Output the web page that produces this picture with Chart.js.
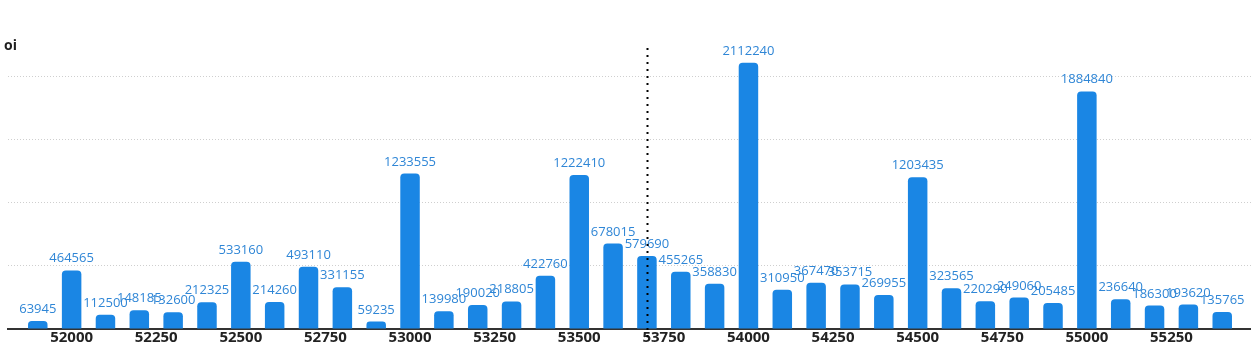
<!DOCTYPE html>
<html>
<head>
<meta charset="utf-8">
<script src="https://cdn.jsdelivr.net/npm/chart.js@4/dist/chart.umd.min.js"></script>
<style>
    html, body { margin: 0; padding: 0; background: #ffffff; }
    #wrap { width: 1251px; height: 347px; }
</style>
</head>
<body>
<div id="wrap"><canvas id="oiChart" width="1251" height="347"></canvas></div>
<script>
// Open interest per strike
const strikes = [51900, 52000, 52100, 52200, 52300, 52400, 52500, 52600, 52700, 52800,
                 52900, 53000, 53100, 53200, 53300, 53400, 53500, 53600, 53700, 53800,
                 53900, 54000, 54100, 54200, 54300, 54400, 54500, 54600, 54700, 54800,
                 54900, 55000, 55100, 55200, 55300, 55400];
const oiValues = [63945, 464565, 112500, 148185, 132600, 212325, 533160, 214260, 493110, 331155,
                  59235, 1233555, 139980, 190020, 218805, 422760, 1222410, 678015, 579690, 455265,
                  358830, 2112240, 310950, 367470, 353715, 269955, 1203435, 323565, 220290, 249060,
                  205485, 1884840, 236640, 186300, 193620, 135765];
const strikeTicks = [52000, 52250, 52500, 52750, 53000, 53250, 53500, 53750, 54000, 54250,
                     54500, 54750, 55000, 55250];
const oiTicks = [0, 500000, 1000000, 1500000, 2000000];
const spotPrice = 53700;

const BAR_COLOR = '#1a86e4';
const LABEL_COLOR = '#2f86d6';

// value text above each bar, spot marker and axis caption
const overlayPlugin = {
    id: 'overlay',
    afterDatasetsDraw(chart) {
        const ctx = chart.ctx;
        const meta = chart.getDatasetMeta(0);
        ctx.save();
        ctx.font = '13px "Open Sans"';
        ctx.fillStyle = LABEL_COLOR;
        ctx.textAlign = 'center';
        ctx.textBaseline = 'alphabetic';
        meta.data.forEach((bar, i) => {
            ctx.fillText(String(oiValues[i]), bar.x, bar.y - 8);
        });
        ctx.restore();

        const area = chart.chartArea;
        const sx = Math.round(chart.scales.x.getPixelForValue(spotPrice)) + 0.5;
        ctx.save();
        ctx.strokeStyle = '#000000';
        ctx.lineWidth = 2;
        ctx.setLineDash([2, 5]);
        ctx.beginPath();
        ctx.moveTo(sx, area.top);
        ctx.lineTo(sx, area.bottom + 10);
        ctx.stroke();
        ctx.restore();

        ctx.save();
        ctx.font = 'bold 14px "Open Sans"';
        ctx.fillStyle = '#1f1f1f';
        ctx.textAlign = 'left';
        ctx.fillText('oi', 4, 50);
        ctx.restore();
    }
};

new Chart(document.getElementById('oiChart'), {
    type: 'bar',
    data: {
        datasets: [{
            label: 'oi',
            data: strikes.map((s, i) => ({ x: s, y: oiValues[i] })),
            backgroundColor: BAR_COLOR,
            borderRadius: { topLeft: 4, topRight: 4 },
            borderSkipped: 'bottom',
            categoryPercentage: 0.8,
            barPercentage: 0.72
        }]
    },
    options: {
        responsive: false,
        animation: false,
        layout: { padding: { top: 48, left: 8, right: 0, bottom: 0 } },
        plugins: {
            legend: { display: false },
            tooltip: { enabled: false }
        },
        scales: {
            x: {
                type: 'linear',
                offset: false,
                min: 51812,
                max: 55485,
                afterBuildTicks: axis => { axis.ticks = strikeTicks.map(v => ({ value: v })); },
                ticks: {
                    color: '#222222',
                    font: { family: 'Open Sans', size: 15, weight: '700' },
                    padding: 0,
                    maxRotation: 0,
                    autoSkip: false,
                    callback: v => String(v)
                },
                grid: { display: false, drawTicks: false },
                border: { display: true, color: '#333333', width: 2 }
            },
            y: {
                min: 0,
                max: 2230000,
                afterBuildTicks: axis => { axis.ticks = oiTicks.map(v => ({ value: v })); },
                ticks: { display: false },
                grid: { color: '#cfcfcf', drawTicks: false, lineWidth: 1 },
                border: { display: false, dash: [1, 2] }
            }
        }
    },
    plugins: [overlayPlugin]
});
</script>
</body>
</html>
